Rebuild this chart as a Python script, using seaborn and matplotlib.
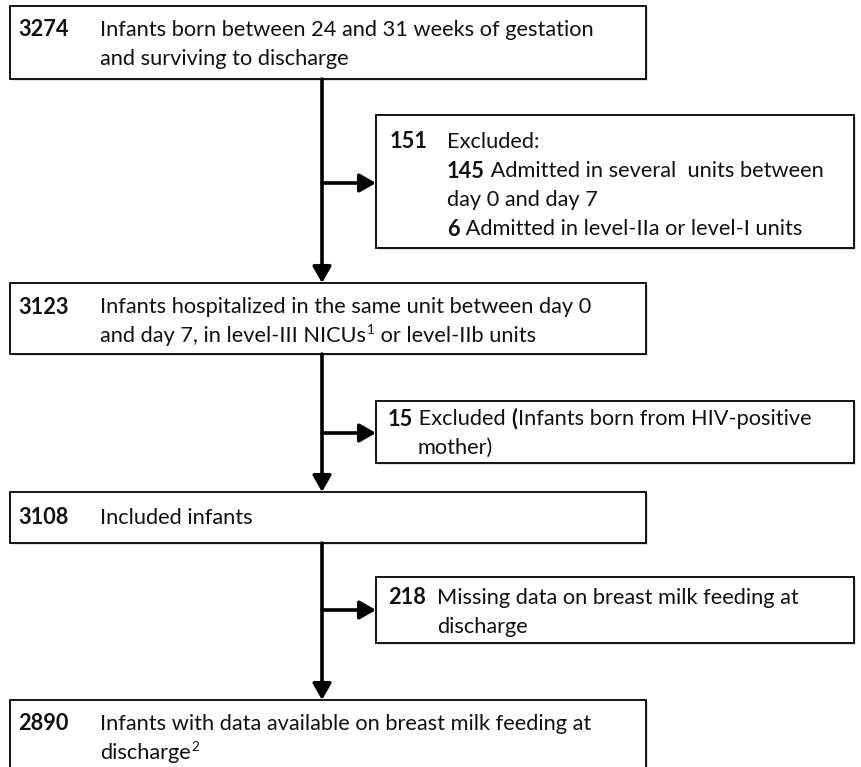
import matplotlib
matplotlib.use("Agg")
import matplotlib.pyplot as plt
import seaborn as sns
from matplotlib.patches import Rectangle, FancyArrowPatch

# counts shown in the flow chart
main_counts = [3274, 3123, 3108, 2890]
excl_counts = [151, 15, 218]
sub_counts = [145, 6]

# each line is a list of (text, style) parts
main_lines = [
    [[("Infants born between 24 and 31 weeks of gestation", "normal")],
     [("and surviving to discharge", "normal")]],
    [[("Infants hospitalized in the same unit between day 0", "normal")],
     [("and day 7, in level-III NICUs", "normal"), ("1", "sup"), (" or level-IIb units", "normal")]],
    [[("Included infants", "normal")]],
    [[("Infants with data available on breast milk feeding at", "normal")],
     [("discharge", "normal"), ("2", "sup")]],
]

# layout (pixels, y down)
W, H = 862, 767
main_boxes = [(10, 6, 636, 73), (10, 283, 636, 71), (10, 492, 636, 51), (10, 700, 636, 80)]
excl_boxes = [(376, 115, 478, 133), (376, 401, 478, 62), (376, 577, 478, 66)]
spine_x = 322
branch_y = [183, 433, 610]
LH = 29  # line height

sns.set_theme(style="white")
plt.rcParams["font.family"] = ["Lato", "DejaVu Sans"]
FS = 15.7

fig = plt.figure(figsize=(W / 100, H / 100), dpi=100)
ax = fig.add_axes([0, 0, 1, 1])
ax.set_xlim(0, W)
ax.set_ylim(H, 0)
ax.axis("off")
renderer = fig.canvas.get_renderer()


def draw_box(b):
    x, y, w, h = b
    ax.add_patch(Rectangle((x + 2, y + 2), w, h, fc="#e2e2e2", ec="none", zorder=1))
    ax.add_patch(Rectangle((x, y), w, h, fc="white", ec="black", lw=1.3, zorder=2))


def segs(x, y, parts):
    # draw text segments (text, style) one after another on one line
    inv = ax.transData.inverted()
    for txt, st in parts:
        if st == "sup":
            t = ax.text(x + 1, y - 6, txt, fontsize=FS * 0.62, va="center", ha="left",
                        color="#111111", zorder=3)
        else:
            t = ax.text(x, y, txt, fontsize=FS, fontweight=st, va="center", ha="left",
                        color="#111111", zorder=3)
        bb = t.get_window_extent(renderer=renderer)
        x = inv.transform((bb.x1, bb.y0))[0]
    return x


def arrow(p0, p1):
    ax.add_patch(FancyArrowPatch(p0, p1, arrowstyle="-|>,head_length=0.7,head_width=0.4",
                                 lw=2.6, color="black", mutation_scale=14, zorder=4,
                                 shrinkA=0, shrinkB=0))


for b in main_boxes + excl_boxes:
    draw_box(b)

# main boxes text
for b, n, lines in zip(main_boxes, main_counts, main_lines):
    x, y, w, h = b
    y0 = y + 24 if len(lines) > 1 else y + h / 2
    segs(x + 8, y0, [(str(n), "bold")])
    for i, ln in enumerate(lines):
        segs(x + 90, y0 + i * LH, ln)

# excluded box 1
x, y, w, h = excl_boxes[0]
segs(x + 14, y + 27, [(str(excl_counts[0]), "bold")])
tx = x + 71
segs(tx, y + 27, [("Excluded:", "normal")])
segs(tx, y + 27 + LH, [(str(sub_counts[0]), "bold"), (" Admitted in several  units between", "normal")])
segs(tx, y + 27 + 2 * LH, [("day 0 and day 7", "normal")])
segs(tx, y + 27 + 3 * LH, [(str(sub_counts[1]), "bold"), (" Admitted in level-IIa or level-I units", "normal")])

# excluded box 2
x, y, w, h = excl_boxes[1]
segs(x + 12, y + 18, [(str(excl_counts[1]), "bold"), (" Excluded ", "normal"), ("(", "bold"),
                      ("Infants born from HIV-positive", "normal")])
segs(x + 42, y + 18 + LH, [("mother)", "normal")])

# excluded box 3
x, y, w, h = excl_boxes[2]
segs(x + 12, y + 21, [(str(excl_counts[2]), "bold")])
segs(x + 61, y + 21, [("Missing data on breast milk feeding at", "normal")])
segs(x + 61, y + 21 + LH, [("discharge", "normal")])

# arrows
for i in range(3):
    top = main_boxes[i][1] + main_boxes[i][3]
    bot = main_boxes[i + 1][1]
    arrow((spine_x, top), (spine_x, bot))
    arrow((spine_x, branch_y[i]), (excl_boxes[i][0], branch_y[i]))

fig.savefig("out.png", dpi=100, facecolor="white")
